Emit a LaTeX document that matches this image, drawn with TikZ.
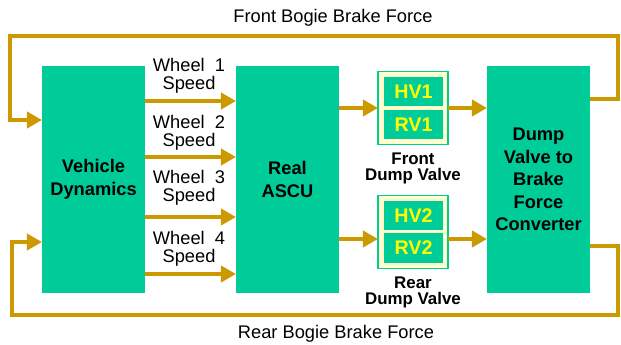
\documentclass[tikz,border=0pt]{standalone}
\usepackage{fontspec}
\setmainfont{Liberation Sans}
\usetikzlibrary{positioning, arrows.meta}
\definecolor{blkGreen}{HTML}{00CC99}
\definecolor{sigGold}{HTML}{CC9900}
\definecolor{valvePale}{HTML}{FFFFCC}
\definecolor{valveText}{HTML}{FFFF00}

\begin{document}
\begin{tikzpicture}[x=0.025cm, y=-0.025cm,
  box/.style={fill=blkGreen, inner sep=0pt, outer sep=0pt, align=center, minimum width=2.575cm, minimum height=5.675cm, font=\fontsize{13}{16}\selectfont\bfseries},
  valve/.style={draw=blkGreen, line width=0.8pt, fill=valvePale, inner sep=0pt, outer sep=0pt, minimum width=1.75cm, minimum height=1.82cm},
  vpart/.style={fill=blkGreen, inner sep=0pt, outer sep=0pt, minimum width=1.475cm, minimum height=0.73cm, text=valveText, font=\fontsize{14}{16}\selectfont\bfseries},
  lbl/.style={align=center, inner sep=0pt, font=\fontsize{13}{13}\selectfont},
  vlbl/.style={align=center, inner sep=0pt, font=\fontsize{12}{11.5}\selectfont\bfseries},
  arr/.style={-{Triangle[length=3.75mm, width=4mm]}, line width=3.5pt, draw=sigGold}
]
\useasboundingbox (0,0) rectangle (621,344);

% main blocks
\node[box] (vd) at (93.5,179.5) {Vehicle\\Dynamics};
\node[box] (ascu) at (287.5,179.5) {Real\\ASCU};
\node[box] (conv) at (538.5,179.5) {Dump\\Valve to\\Brake\\Force\\Converter};

% dump valves
\node[valve] (fv) at (413,108) {};
\node[vpart] (hv1) at (413.5,91.5) {HV1};
\node[vpart] (rv1) at (413.5,124.5) {RV1};
\node[vlbl, below=6pt of fv] (fvl) {Front\\Dump Valve};
\node[valve] (rv) at (413,232) {};
\node[vpart] (hv2) at (413.5,215.5) {HV2};
\node[vpart] (rv2) at (413.5,248) {RV2};
\node[vlbl, below=6pt of rv] (rvl) {Rear\\Dump Valve};

% wheel speeds
\node[lbl] (w1l) at (189,76) {Wheel\ \ 1\\Speed};
\node[lbl] (w2l) at (189,133) {Wheel\ \ 2\\Speed};
\node[lbl] (w3l) at (189,187.5) {Wheel\ \ 3\\Speed};
\node[lbl] (w4l) at (189,249) {Wheel\ \ 4\\Speed};
\coordinate (w1) at (0,101);
\coordinate (w2) at (0,157);
\coordinate (w3) at (0,217);
\coordinate (w4) at (0,274);
\draw[arr] (vd.east |- w1) -- (ascu.west |- w1);
\draw[arr] (vd.east |- w2) -- (ascu.west |- w2);
\draw[arr] (vd.east |- w3) -- (ascu.west |- w3);
\draw[arr] (vd.east |- w4) -- (ascu.west |- w4);

% ascu -> valves -> converter
\coordinate (ra) at (0,239);
\draw[arr] (ascu.east |- fv) -- (fv.west);
\draw[arr] (fv.east) -- (conv.west |- fv);
\draw[arr] (ascu.east |- ra) -- (rv.west |- ra);
\draw[arr] (rv.east |- ra) -- (conv.west |- ra);

% brake force feedback
\coordinate (fo) at (0,99);
\coordinate (fi) at (0,120);
\coordinate (ne) at (618,36);
\coordinate (nw) at (10,36);
\coordinate (ro) at (0,246);
\coordinate (ri) at (0,242);
\coordinate (se) at (618,315);
\coordinate (sw) at (12,315);
\draw[arr] (conv.east |- fo) -| (ne) -- (nw) |- (vd.west |- fi);
\draw[arr] (conv.east |- ro) -| (se) -- (sw) |- (vd.west |- ri);
\node[lbl] (ftxt) at (333,18) {Front Bogie Brake Force};
\node[lbl] (rtxt) at (336,334) {Rear Bogie Brake Force};
\end{tikzpicture}
\end{document}
